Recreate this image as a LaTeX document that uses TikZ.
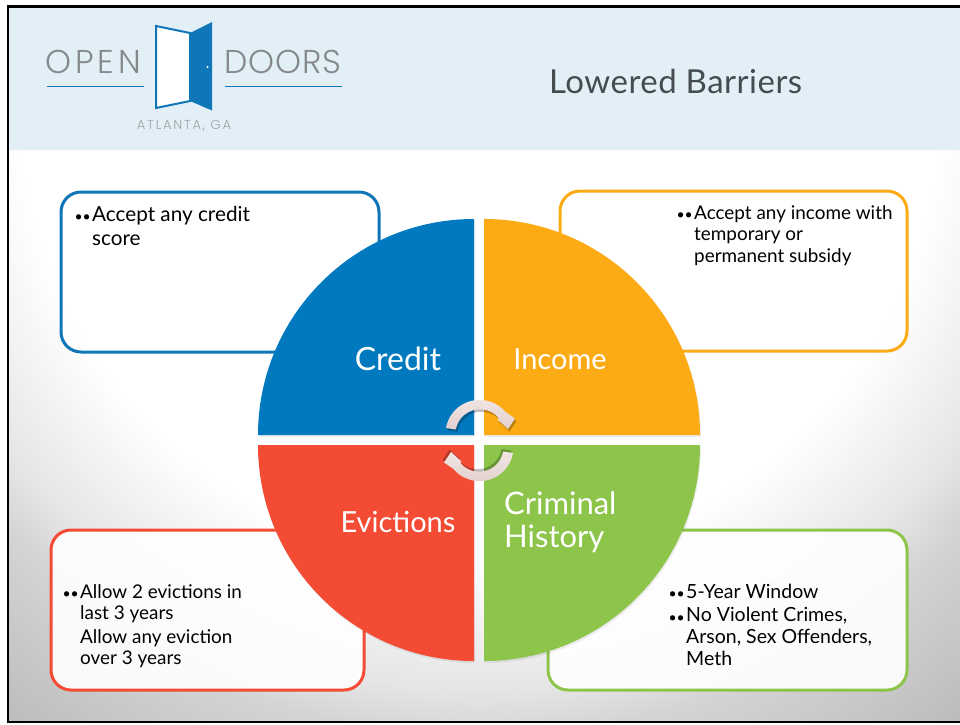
\documentclass[tikz,border=0pt]{standalone}
\usepackage{fontspec}
\setmainfont{Lato}
\newfontfamily\thinfont[LetterSpace=3]{Poppins Light}
\newfontfamily\thinopen[LetterSpace=12]{Poppins Light}
\newfontfamily\thinwide[LetterSpace=14]{Poppins Light}
\newfontfamily\titlefont[LetterSpace=1.5]{Lato}
\usetikzlibrary{calc}
\definecolor{cblue}{HTML}{0079BF}
\definecolor{corange}{HTML}{FDAB14}
\definecolor{cred}{HTML}{F44B34}
\definecolor{cgreen}{HTML}{8CC54A}
\definecolor{doorblue}{HTML}{0F77B8}
\definecolor{headbg}{HTML}{E3EFF7}
\definecolor{logogray}{HTML}{85898C}
\definecolor{titlec}{HTML}{454C50}
\definecolor{arrowtop}{HTML}{F1E6E4}
\definecolor{arrowbot}{HTML}{E3D0CD}
\pgfdeclareradialshading{slidebg}{\pgfpoint{0bp}{0bp}}{color(0bp)=(white); color(18bp)=(white); color(23bp)=(black!10); color(25bp)=(black!17); color(31bp)=(black!27); color(50bp)=(black!40)}
\tikzset{
  infobox/.style={line width=3pt,rounded corners=20pt,fill=white,fill opacity=0.9},
  qshadow/.style={fill=black,opacity=0.07},
  qlabel/.style={text=white,align=left,inner sep=0pt},
  bodytext/.style={text=black,align=left,anchor=base west,inner sep=0pt},
  bullet/.style={text=black,font=\fontsize{14}{16}\selectfont,anchor=base east,inner sep=0pt},
  logotext/.style={text=logogray,inner sep=0pt},
  rule/.style={draw=doorblue,line width=1pt}
}
\newcommand{\quadrant}[5]{% corner x, y, start angle, end angle, colour
  \fill[qshadow] ($(#1,#2)+(1,2)$) -- ++(#3:216) arc[start angle=#3,end angle=#4,radius=216] -- cycle;
  \fill[#5] (#1,#2) -- ++(#3:216) arc[start angle=#3,end angle=#4,radius=216] -- cycle;
}
\newcommand{\turnarrowpath}{(446,428) arc[start angle=190,end angle=320,radius=34] -- (515,418.5) -- (508,429) -- (497.5,419.5) -- (498.7,418) arc[start angle=320,end angle=190,radius=24.5] -- cycle}
\newcommand{\turnarrow}{%
  \fill[black,opacity=0.25,shift={(1.5,2.5)}] \turnarrowpath;
  \shade[top color=arrowtop,bottom color=arrowbot] \turnarrowpath;
}
\begin{document}
\begin{tikzpicture}[x=1pt,y=-1pt]
\useasboundingbox (0,0) rectangle (960,724);
\fill[white] (0,0) rectangle (960,724);
% slide background
\begin{scope}
  \clip (9,150) rectangle (960,721);
  \shade[shading=slidebg] (-160,-540) rectangle (1120,740);
\end{scope}
\fill[headbg] (9,8) rectangle (960,150);
\draw[black,line width=2.6pt] (960,6.5) -- (8,6.5) -- (8,722) -- (960,722);
% logo
\node[logotext,font=\thinopen\fontsize{33}{36}\selectfont,anchor=base west] (open) at (45,73) {OPEN};
\node[logotext,font=\thinfont\fontsize{33}{36}\selectfont,anchor=base west] (doors) at (224,73) {DOORS};
\node[logotext,text=logogray!80,font=\thinwide\fontsize{13}{15}\selectfont,anchor=base] (atl) at (184,129) {ATLANTA, GA};
\draw[rule] (47,86) -- (144,86);
\draw[rule] (225,86) -- (342,86);
\draw[doorblue,fill=white,line width=2pt,line join=miter] (156,26) -- (190,33) -- (190,101) -- (156,108) -- cycle;
\fill[doorblue] (190,33) -- (212,22) -- (212,110.5) -- (190,101) -- cycle;
\fill[white] (207.5,67) circle[radius=1.2];
\node[text=titlec,font=\titlefont\fontsize{33}{36}\selectfont,anchor=base west,inner sep=0pt] (title) at (549,93) {Lowered Barriers};
% boxes
\draw[infobox,draw=doorblue] (61,192) rectangle (379,352);
\draw[infobox,draw=corange] (560,191) rectangle (907,351);
\draw[infobox,draw=cred] (51,530) rectangle (364,690);
\draw[infobox,draw=cgreen] (548,530) rectangle (907,690);
% quadrants
\quadrant{474}{435}{180}{270}{cblue}
\quadrant{484}{435}{270}{360}{corange}
\quadrant{474}{445}{90}{180}{cred}
\quadrant{484}{445}{0}{90}{cgreen}
\node[qlabel,font=\fontsize{32}{34}\selectfont] (credit) at (398,359) {Credit};
\node[qlabel,font=\fontsize{29}{33}\selectfont] (income) at (560,359) {Income};
\node[qlabel,font=\fontsize{29}{33}\selectfont] (evict) at (398,522) {Evictions};
\node[qlabel,anchor=west,font=\fontsize{31}{33}\selectfont] (crim) at (504,522) {Criminal\\History};
% turning arrows
\turnarrow
\begin{scope}[rotate around={180:(479.5,440.5)}]
  \turnarrow
\end{scope}
% box text (multi-line nodes are placed by their last baseline)
\node[bullet] (b1) at (91,221) {••};
\node[bodytext,font=\fontsize{20.7}{24}\selectfont] (t1) at (92,245) {Accept any credit\\score};
\node[bullet] (b2) at (693,219) {••};
\node[bodytext,font=\fontsize{18.9}{21.5}\selectfont] (t2) at (694,262) {Accept any income with\\temporary or\\permanent subsidy};
\node[bullet] (b3) at (79,598) {••};
\node[bodytext,font=\fontsize{18.9}{21}\selectfont] (t3) at (80,664) {Allow 2 evictions in\\last 3 years\\[3pt]Allow any eviction\\over 3 years};
\node[bullet] (b4) at (685,598) {••};
\node[bodytext,font=\fontsize{19.5}{22}\selectfont] (t4) at (686,598) {5-Year Window};
\node[bullet] (b5) at (685,622) {••};
\node[bodytext,font=\fontsize{19.5}{22}\selectfont] (t5) at (686,665) {No Violent Crimes,\\Arson, Sex Offenders,\\Meth};
\end{tikzpicture}
\end{document}
